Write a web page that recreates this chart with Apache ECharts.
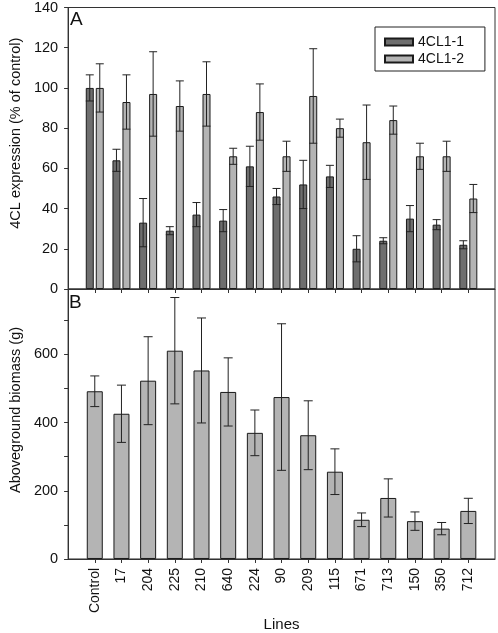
<!DOCTYPE html>
<html>
<head>
<meta charset="utf-8">
<script src="https://cdn.jsdelivr.net/npm/echarts@6/dist/echarts.min.js"></script>
<style>
html,body{margin:0;padding:0;background:#fff;}
#c{width:498px;height:633px;}
</style>
</head>
<body>
<div id="c"></div>
<script>
const lines = ['Control','17','204','225','210','640','224','90','209','115','671','713','150','350','712'];
const cl11 = [100,64,33,29,37,34,61,46,52,56,20,24,35,32,22];
const cl11Err = [6.5,5.5,12,2,6,5.5,10,4,12,5.5,6.5,1.5,6.5,2.5,2];
const cl12 = [100,93,97,91,97,66,88,66,96,80,73,84,66,66,45];
const cl12Err = [12,13.5,21,12.5,16,4,14,7.5,23.5,4.5,18.5,7,6.5,7.5,7];
const biomass = [492,426,523,611,553,490,370,475,363,256,115,179,111,89,141];
const biomassErr = [45,84,129,156,154,100,67,215,101,67,20,56,27,18,37];
const yTicksA = [0,20,40,60,80,100,120,140];
const yTicksB = [0,200,400,600];

const FONT = "'Liberation Sans', Arial, sans-serif";
const cats = [''].concat(lines, ['']);
const pad = arr => ['-'].concat(arr, ['-']);
const errData = (vals, errs) => vals.map((v, i) => [i + 1, v, errs[i]]);

function errRender(offset, cap) {
  return function (params, api) {
    const x = api.value(0), v = api.value(1), e = api.value(2);
    const top = api.coord([x, v + e]);
    const bot = api.coord([x, v - e]);
    const cx = top[0] + offset;
    const st = {stroke: '#222', lineWidth: 1};
    return {type: 'group', children: [
      {type: 'line', shape: {x1: cx, y1: top[1], x2: cx, y2: bot[1]}, style: st},
      {type: 'line', shape: {x1: cx - cap, y1: top[1], x2: cx + cap, y2: top[1]}, style: st},
      {type: 'line', shape: {x1: cx - cap, y1: bot[1], x2: cx + cap, y2: bot[1]}, style: st}
    ]};
  };
}

const axisLine = {lineStyle: {color: '#333', width: 1}};
const tickInt = idx => idx > 0 && idx < cats.length - 1;

const option = {
  animation: false,
  textStyle: {fontFamily: FONT},
  grid: [
    {left: 63, top: 6, width: 432, height: 283, show: true, borderColor: '#333', borderWidth: 1, backgroundColor: 'transparent'},
    {left: 63, top: 289, width: 432, height: 281, show: true, borderColor: '#333', borderWidth: 1, backgroundColor: 'transparent'}
  ],
  legend: {
    data: ['4CL1-1', '4CL1-2'],
    orient: 'vertical',
    left: 375, top: 27,
    padding: [8, 21, 5, 9],
    itemGap: 3,
    itemWidth: 28, itemHeight: 7,
    borderColor: '#222', borderWidth: 1,
    textStyle: {fontFamily: FONT, fontSize: 14, color: '#111'},
    icon: 'rect'
  },
  xAxis: [
    {type: 'category', gridIndex: 0, data: cats, boundaryGap: false,
     axisLine: axisLine,
     axisTick: {show: true, inside: false, length: 4, interval: tickInt, lineStyle: {color: '#333'}},
     axisLabel: {show: false}, splitLine: {show: false}},
    {type: 'category', gridIndex: 1, data: cats, boundaryGap: false,
     axisLine: axisLine,
     axisTick: {show: true, inside: false, length: 4, interval: tickInt, lineStyle: {color: '#333'}},
     axisLabel: {show: true, interval: 0, rotate: 90, margin: 9, fontSize: 14, color: '#111', fontFamily: FONT},
     name: 'Lines', nameLocation: 'middle', nameGap: 48,
     nameTextStyle: {fontSize: 15, color: '#111', fontFamily: FONT},
     splitLine: {show: false}}
  ],
  yAxis: [
    {type: 'value', gridIndex: 0, min: yTicksA[0], max: yTicksA[yTicksA.length - 1], interval: 20,
     axisLine: {show: true, lineStyle: {color: '#333'}},
     axisTick: {show: true, length: 4, lineStyle: {color: '#333'}},
     axisLabel: {fontSize: 14.5, color: '#111', margin: 10, fontFamily: FONT},
     splitLine: {show: false},
     name: '4CL expression (% of control)', nameLocation: 'middle', nameGap: 41,
     nameTextStyle: {fontSize: 14.5, color: '#111', fontFamily: FONT, padding: [0, 0, 0, 30]}},
    {type: 'value', gridIndex: 1, min: 0, max: 792, interval: 100,
     axisLine: {show: true, lineStyle: {color: '#333'}},
     axisTick: {show: true, length: 4, lineStyle: {color: '#333'}},
     axisLabel: {fontSize: 14.5, color: '#111', margin: 10, fontFamily: FONT, showMaxLabel: false,
       formatter: v => (yTicksB.indexOf(v) >= 0 ? String(v) : '')},
     splitLine: {show: false},
     name: 'Aboveground biomass (g)', nameLocation: 'middle', nameGap: 41,
     nameTextStyle: {fontSize: 14.5, color: '#111', fontFamily: FONT, padding: [0, 0, 0, 28]}}
  ],
  graphic: [
    {type: 'text', left: 70, top: 10, style: {text: 'A', fontSize: 19, fontFamily: FONT, fill: '#111'}},
    {type: 'text', left: 69, top: 293, style: {text: 'B', fontSize: 19, fontFamily: FONT, fill: '#111'}}
  ],
  series: [
    {name: '4CL1-1', type: 'bar', xAxisIndex: 0, yAxisIndex: 0, data: pad(cl11),
     barWidth: 8, barGap: '25%',
     itemStyle: {color: '#6e6e6e', borderColor: '#1a1a1a', borderWidth: 1}},
    {name: '4CL1-2', type: 'bar', xAxisIndex: 0, yAxisIndex: 0, data: pad(cl12),
     barWidth: 8, barGap: '25%',
     itemStyle: {color: '#b4b4b4', borderColor: '#1a1a1a', borderWidth: 1}},
    {type: 'custom', xAxisIndex: 0, yAxisIndex: 0, data: errData(cl11, cl11Err),
     renderItem: errRender(-5, 4), z: 5},
    {type: 'custom', xAxisIndex: 0, yAxisIndex: 0, data: errData(cl12, cl12Err),
     renderItem: errRender(5, 4), z: 5},
    {name: 'Biomass', type: 'bar', xAxisIndex: 1, yAxisIndex: 1, data: pad(biomass),
     barWidth: 16,
     itemStyle: {color: '#b4b4b4', borderColor: '#1a1a1a', borderWidth: 1}},
    {type: 'custom', xAxisIndex: 1, yAxisIndex: 1, data: errData(biomass, biomassErr),
     renderItem: errRender(0, 4.5), z: 5}
  ]
};

const chart = echarts.init(document.getElementById('c'), null, {renderer: 'canvas'});
chart.setOption(option);
</script>
</body>
</html>
